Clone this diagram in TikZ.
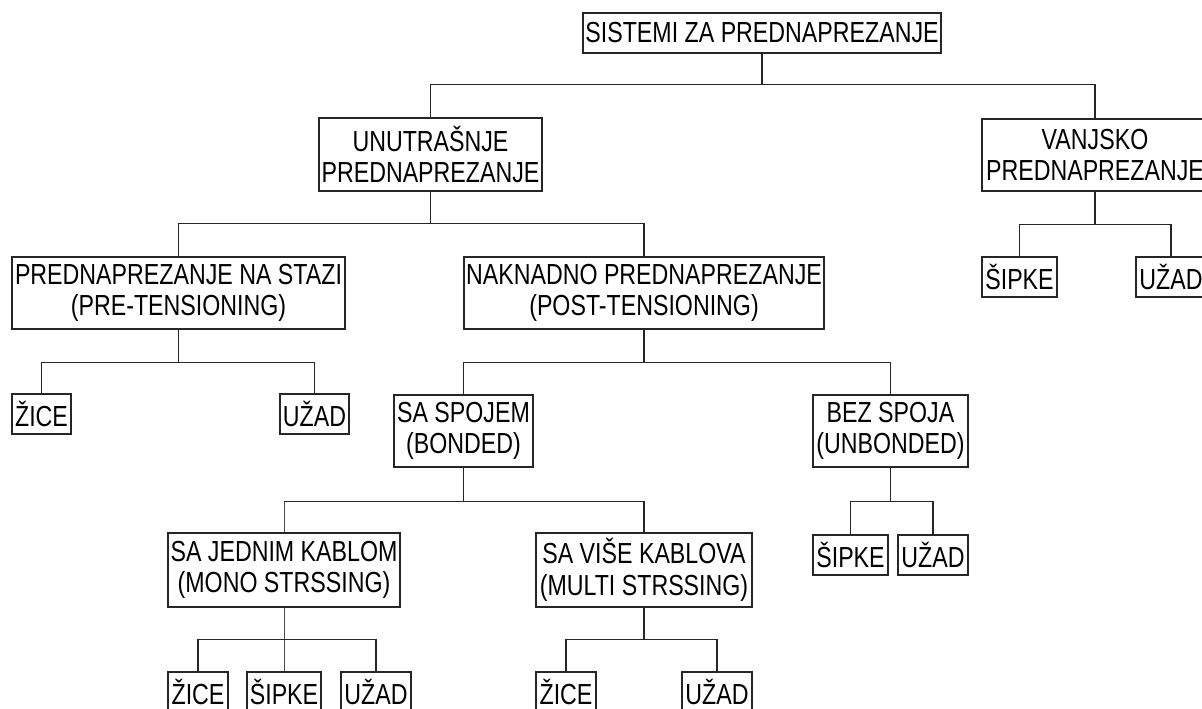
\documentclass[tikz,border=0pt]{standalone}
\usepackage{fontspec}
\setmainfont{Liberation Sans}[FakeStretch=0.80]
\usetikzlibrary{calc}
\tikzset{
  box/.style={draw=black!85, line width=1.3pt, inner sep=0pt, align=center,
    font=\fontsize{29}{31.5}\selectfont, minimum height=40pt},
  twoline/.style={box, minimum height=72pt},
  link/.style={draw=black!85, line width=1.3pt},
  thinlink/.style={draw=black!70, line width=0.6pt}
}
\begin{document}
\begin{tikzpicture}[x=1pt,y=-1pt]
\clip (0,0) rectangle (1202,709);
\fill[white] (0,0) rectangle (1202,709);
% level 0
\node[box, minimum width=358pt] (top) at (762,33) {SISTEMI ZA PREDNAPREZANJE};
% level 1
\node[twoline, minimum width=223pt, minimum height=73pt] (unut) at (430.5,154.5) {UNUTRAŠNJE\\PREDNAPREZANJE};
\node[twoline, minimum width=226pt] (vanj) at (1095,155) {VANJSKO\\PREDNAPREZANJE};
% level 2
\node[twoline, minimum width=333pt] (pre) at (178.5,293) {PREDNAPREZANJE NA STAZI\\(PRE-TENSIONING)};
\node[twoline, minimum width=360pt] (nak) at (644,293) {NAKNADNO PREDNAPREZANJE\\(POST-TENSIONING)};
\node[box, minimum width=75pt] (sipkev) at (1019.5,277) {ŠIPKE};
\node[box, minimum width=70pt] (uzadv) at (1171,277) {UŽAD};
% level 3
\node[box, minimum width=59pt] (zice1) at (41.5,414) {ŽICE};
\node[box, minimum width=69pt] (uzad1) at (314.5,414) {UŽAD};
\node[twoline, minimum width=139pt] (spoj) at (463.5,431) {SA SPOJEM\\(BONDED)};
\node[twoline, minimum width=155pt] (bez) at (890.5,431) {BEZ SPOJA\\(UNBONDED)};
% level 4
\node[box, minimum width=75pt] (sipkeb) at (850.5,555) {ŠIPKE};
\node[box, minimum width=70pt] (uzadb) at (933,555) {UŽAD};
\node[twoline, minimum width=232pt, minimum height=74pt] (jed) at (284,570) {SA JEDNIM KABLOM\\(MONO STRSSING)};
\node[twoline, minimum width=216pt, minimum height=74pt] (vise) at (644,570) {SA VIŠE KABLOVA\\(MULTI STRSSING)};
% level 5
\node[box, minimum width=60pt] (zice2) at (198,692) {ŽICE};
\node[box, minimum width=74pt] (sipke2) at (284,692) {ŠIPKE};
\node[box, minimum width=70pt] (uzad2) at (376,692) {UŽAD};
\node[box, minimum width=60pt] (zice3) at (566,692) {ŽICE};
\node[box, minimum width=70pt] (uzad3) at (717,692) {UŽAD};
% connectors
\draw[link] (top.south) -- ++(0,31) -| (unut.north);
\draw[link] (top.south) -- ++(0,31) -| (vanj.north);
\draw[link] (unut.south) -- ++(0,32) -| (pre.north);
\draw[link] (unut.south) -- ++(0,32) -| (nak.north);
\draw[link] (vanj.south) -- ++(0,33) -| (sipkev.north);
\draw[link] (vanj.south) -- ++(0,33) -| (uzadv.north);
\draw[link] (pre.south) -- ++(0,33) -| (zice1.north);
\draw[link] (pre.south) -- ++(0,33) -| (uzad1.north);
\draw[link] (nak.south) -- ++(0,33) -| (spoj.north);
\draw[link] (nak.south) -- ++(0,33) -| (bez.north);
\draw[link] (bez.south) -- ++(0,34) -| (sipkeb.north);
\draw[link] (bez.south) -- ++(0,34) -| (uzadb.north);
\coordinate (busA) at ($(spoj.south)+(0,34)$);
\draw[link] (spoj.south) -- ++(0,34) -| (vise.north);
\draw[thinlink] (busA) -| (jed.north);
\draw[link] (busA) -- (busA -| jed.north);
\draw[thinlink] (jed.south) -- (sipke2.north);
\coordinate (busB) at ($(jed.south)+(0,32)$);
\draw[link] (busB) -| (zice2.north);
\draw[link] (busB) -| (uzad2.north);
\draw[link] (vise.south) -- ++(0,32) -| (zice3.north);
\draw[link] (vise.south) -- ++(0,32) -| (uzad3.north);
\end{tikzpicture}
\end{document}
